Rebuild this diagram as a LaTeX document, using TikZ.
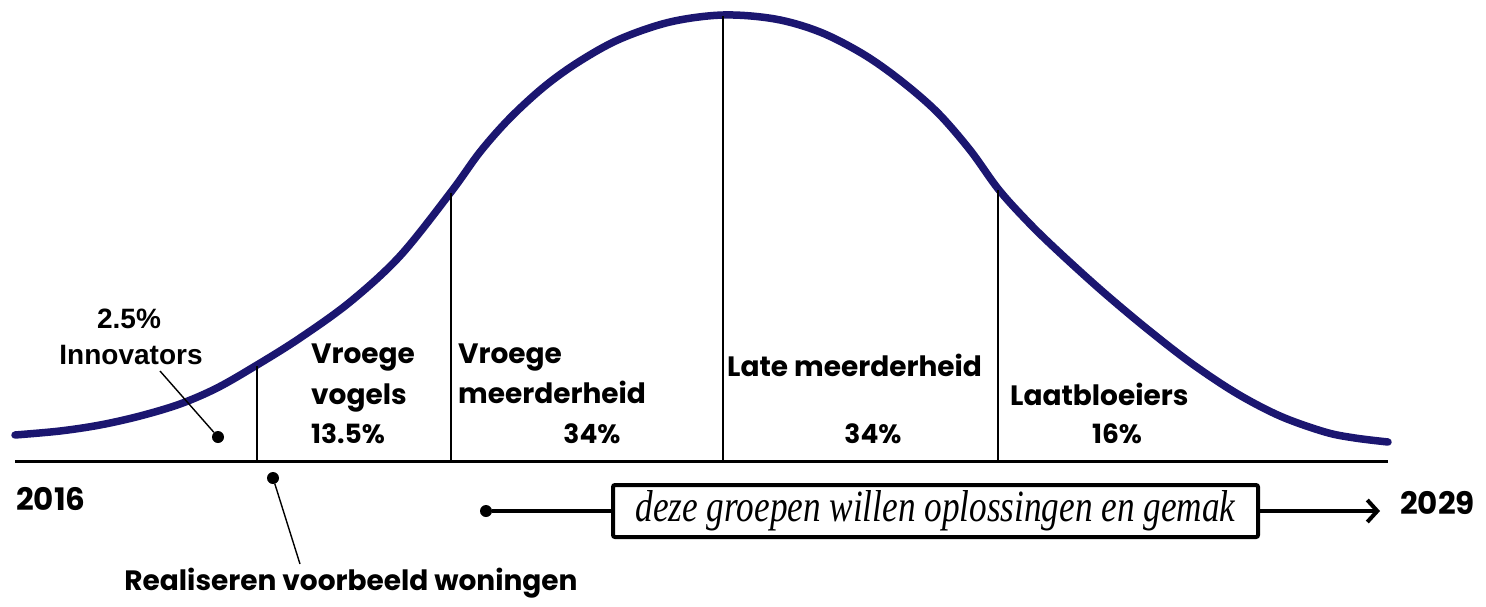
\documentclass[tikz,border=0pt]{standalone}
\usepackage{fontspec}
\newfontfamily\popfont{Poppins}
\newfontfamily\arialfont{Liberation Sans}
\newfontfamily\seriffont{Liberation Serif}
\usetikzlibrary{arrows.meta}
\definecolor{navy}{RGB}{27,22,112}
\begin{document}
\begin{tikzpicture}[x=1pt,y=-1pt,
  lbl/.style={font={\popfont\bfseries\fontsize{28}{32}\selectfont}, inner sep=0pt, text=black},
  pctlbl/.style={font={\popfont\bfseries\fontsize{26.5}{30}\selectfont}, inner sep=0pt, text=black},
  yearlbl/.style={font={\popfont\bfseries\fontsize{31}{34}\selectfont}, inner sep=0pt, text=black},
  albl/.style={font={\arialfont\bfseries\fontsize{28}{32}\selectfont}, inner sep=0pt, text=black},
  bellcurve/.style={draw=navy, line width=7.5pt, line cap=round, line join=round},
  divider/.style={draw=black, line width=2pt},
  axisline/.style={draw=black, line width=3pt},
  leader/.style={draw=black, line width=1.4pt},
  dotnode/.style={circle, fill=black, minimum size=12pt, inner sep=0pt},
  timeline/.style={draw=black, line width=3.5pt},
  msgbox/.style={draw=black, line width=4pt, rounded corners=2pt, minimum width=645pt, minimum height=52pt, inner sep=0pt, fill=white}
]
\useasboundingbox (0,0) rectangle (1486,606);
\fill[white] (0,0) rectangle (1486,606);

% bell curve
\draw[bellcurve] plot[smooth, tension=0.55] coordinates {
 (15,435) (60,431) (100,425) (140,416) (180,404) (217,388) (257,365)
 (300,338) (350,302) (400,256) (451,192) (480,152) (510,118)
 (545,86) (580,61) (620,39) (670,22) (723,15) (775,19) (820,32) (863,54)
 (900,80) (937,112) (970,150) (999,190) (1030,224) (1060,253) (1102,291)
 (1146,328) (1191,363) (1236,393) (1280,416) (1325,432) (1355,438) (1388,442)};

% axis
\coordinate (axL) at (15,461);
\coordinate (axR) at (1388,461);
\draw[axisline] (axL) -- (axR);

% dividers
\coordinate (b1) at (257,461); \coordinate (t1) at (257,366);
\coordinate (b2) at (451,461); \coordinate (t2) at (451,193);
\coordinate (b3) at (723,461); \coordinate (t3) at (723,16);
\coordinate (b4) at (998,461); \coordinate (t4) at (998,190);
\draw[divider] (b1) -- (t1);
\draw[divider] (b2) -- (t2);
\draw[divider] (b3) -- (t3);
\draw[divider] (b4) -- (t4);

% innovators
\node[albl, anchor=base] (pct1) at (129,328) {2.5\%};
\node[albl, anchor=base] (innov) at (131,364) {Innovators};
\coordinate (innovleader) at (160,371);
\node[dotnode] (dot1) at (218,437) {};
\draw[leader] (innovleader) -- (dot1);

% vroege vogels
\node[lbl, anchor=base west] (vv1) at (311,363) {Vroege};
\node[lbl, anchor=base west] (vv2) at (311,404) {vogels};
\node[pctlbl, anchor=base west] (vv3) at (311,443) {13.5\%};

% vroege meerderheid
\node[lbl, anchor=base west] (vm1) at (458,363) {Vroege};
\node[lbl, anchor=base west] (vm2) at (458,403) {meerderheid};
\node[pctlbl, anchor=base] (vm3) at (592,443) {34\%};

% late meerderheid
\node[lbl, anchor=base west] (lm1) at (727,376) {Late meerderheid};
\node[pctlbl, anchor=base] (lm2) at (873,443) {34\%};

% laatbloeiers
\node[lbl, anchor=base west] (lb1) at (1010,405) {Laatbloeiers};
\node[pctlbl, anchor=base] (lb2) at (1117,443) {16\%};

% years
\node[yearlbl, anchor=base west] (y1) at (16,510) {2016};
\node[yearlbl, anchor=base west] (y2) at (1400,514) {2029};

% realiseren
\node[dotnode] (dot2) at (273,478) {};
\node[lbl, anchor=base] (real) at (351,590) {Realiseren voorbeeld woningen};
\coordinate (realleader) at (300,564);
\draw[leader] (dot2) -- (realleader);

% timeline with box
\node[dotnode] (dot3) at (486,511) {};
\node[msgbox] (box) at (935.5,511) {\resizebox{600pt}{31pt}{\seriffont\itshape deze groepen willen oplossingen en gemak}};
\coordinate (tip) at (1380,511);
\draw[timeline] (dot3) -- (box.west);
\draw[timeline, -{Straight Barb[length=10pt, width=22pt, line width=4pt]}] (box.east) -- (tip);
\end{tikzpicture}
\end{document}
